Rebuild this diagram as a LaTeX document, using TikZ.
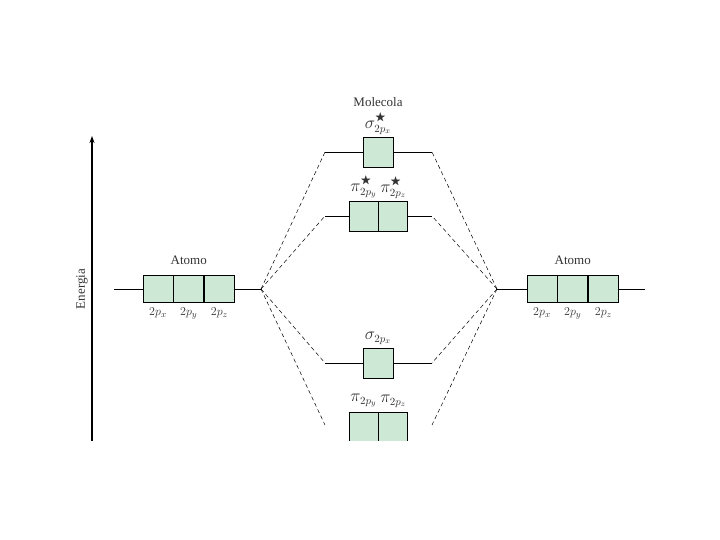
\documentclass[tikz,border=0pt]{standalone}
\usepackage{amssymb}
\usepackage{fontspec}
\setmainfont{Liberation Serif}
\usetikzlibrary{positioning,arrows.meta}
\definecolor{orbgreen}{RGB}{205,232,213}

\begin{document}
\begin{tikzpicture}[x=1pt,y=1pt,
   orb/.style={draw,fill=orbgreen,minimum width=30pt,minimum height=27pt,inner sep=0pt,line width=0.7pt},
   mo/.style={orb,minimum height=30pt},
   lbl/.style={text=black!80,font=\fontsize{13}{15}\selectfont,inner sep=1pt},
   mlbl/.style={lbl,font=\fontsize{16}{18}\selectfont},
   lv/.style={line width=0.7pt},
   dl/.style={dash pattern=on 4pt off 3pt,line width=0.5pt}]
   \useasboundingbox (0,0) rectangle (720,540);
   % energy axis
   \coordinate (E0) at (92,99);
   \coordinate (E1) at (92,404);
   \draw[line width=1.2pt,-{Stealth[length=7pt,width=5pt]}] (E0) -- (E1);
   \node[lbl,rotate=90] (en) at (82,251) {Energia};
   % left atom
   \coordinate (LA) at (114,251);
   \coordinate (LC) at (261,251);
   \node[orb] (Lx) at (158,251) {};
   \node[orb,right=0pt of Lx] (Ly) {};
   \node[orb,right=0pt of Ly] (Lz) {};
   \draw[lv] (LA) -- (Lx.west);
   \draw[lv] (Lz.east) -- (LC);
   \node[lbl,below=4pt of Lx] (tLx) {$2p_x$};
   \node[lbl,below=4pt of Ly] (tLy) {$2p_y$};
   \node[lbl,below=4pt of Lz] (tLz) {$2p_z$};
   \node[lbl,above=9pt of Ly] (aL) {Atomo};
   % right atom
   \coordinate (RC) at (497,251);
   \coordinate (RA) at (645,251);
   \node[orb] (Rx) at (542,251) {};
   \node[orb,right=0pt of Rx] (Ry) {};
   \node[orb,right=0pt of Ry] (Rz) {};
   \draw[lv] (RC) -- (Rx.west);
   \draw[lv] (Rz.east) -- (RA);
   \node[lbl,below=4pt of Rx] (tRx) {$2p_x$};
   \node[lbl,below=4pt of Ry] (tRy) {$2p_y$};
   \node[lbl,below=4pt of Rz] (tRz) {$2p_z$};
   \node[lbl,above=9pt of Ry] (aR) {Atomo};
   % molecule levels
   \coordinate (ssl) at (325,388);
   \coordinate (ssr) at (432,388);
   \node[mo] (ss) at (378,388) {};
   \draw[lv] (ssl) -- (ss.west);
   \draw[lv] (ss.east) -- (ssr);
   \node[mlbl,above=1pt of ss] (tss) {$\sigma^{\bigstar}_{2p_x}$};
   \node[lbl,above=4pt of tss] (mol) {Molecola};
   \coordinate (psl) at (325,324);
   \coordinate (psr) at (432,324);
   \node[mo,minimum width=29pt] (pys) at (363.5,324) {};
   \node[mo,minimum width=29pt,right=0pt of pys] (pzs) {};
   \draw[lv] (psl) -- (pys.west);
   \draw[lv] (pzs.east) -- (psr);
   \node[mlbl,above=1pt of pys] (tpys) {$\pi^{\bigstar}_{2p_y}$};
   \node[mlbl,above=1pt of pzs] (tpzs) {$\pi^{\bigstar}_{2p_z}$};
   \coordinate (sgl) at (325,177);
   \coordinate (sgr) at (432,177);
   \node[mo] (sg) at (378,177) {};
   \draw[lv] (sgl) -- (sg.west);
   \draw[lv] (sg.east) -- (sgr);
   \node[mlbl,above=2pt of sg] (tsg) {$\sigma_{2p_x}$};
   \coordinate (pl) at (325,115);
   \coordinate (pr) at (432,115);
   \begin{scope}
      \clip (0,99) rectangle (720,540);
      \node[mo,minimum width=29pt] (py) at (363.5,113) {};
      \node[mo,minimum width=29pt,right=0pt of py] (pz) {};
   \end{scope}
   \node[mlbl,above=3pt of py] (tpy) {$\pi_{2p_y}$};
   \node[mlbl,above=3pt of pz] (tpz) {$\pi_{2p_z}$};
   % correlation lines
   \foreach \c in {ssl,psl,sgl,pl} \draw[dl] (LC) -- (\c);
   \foreach \c in {ssr,psr,sgr,pr} \draw[dl] (RC) -- (\c);
\end{tikzpicture}
\end{document}
